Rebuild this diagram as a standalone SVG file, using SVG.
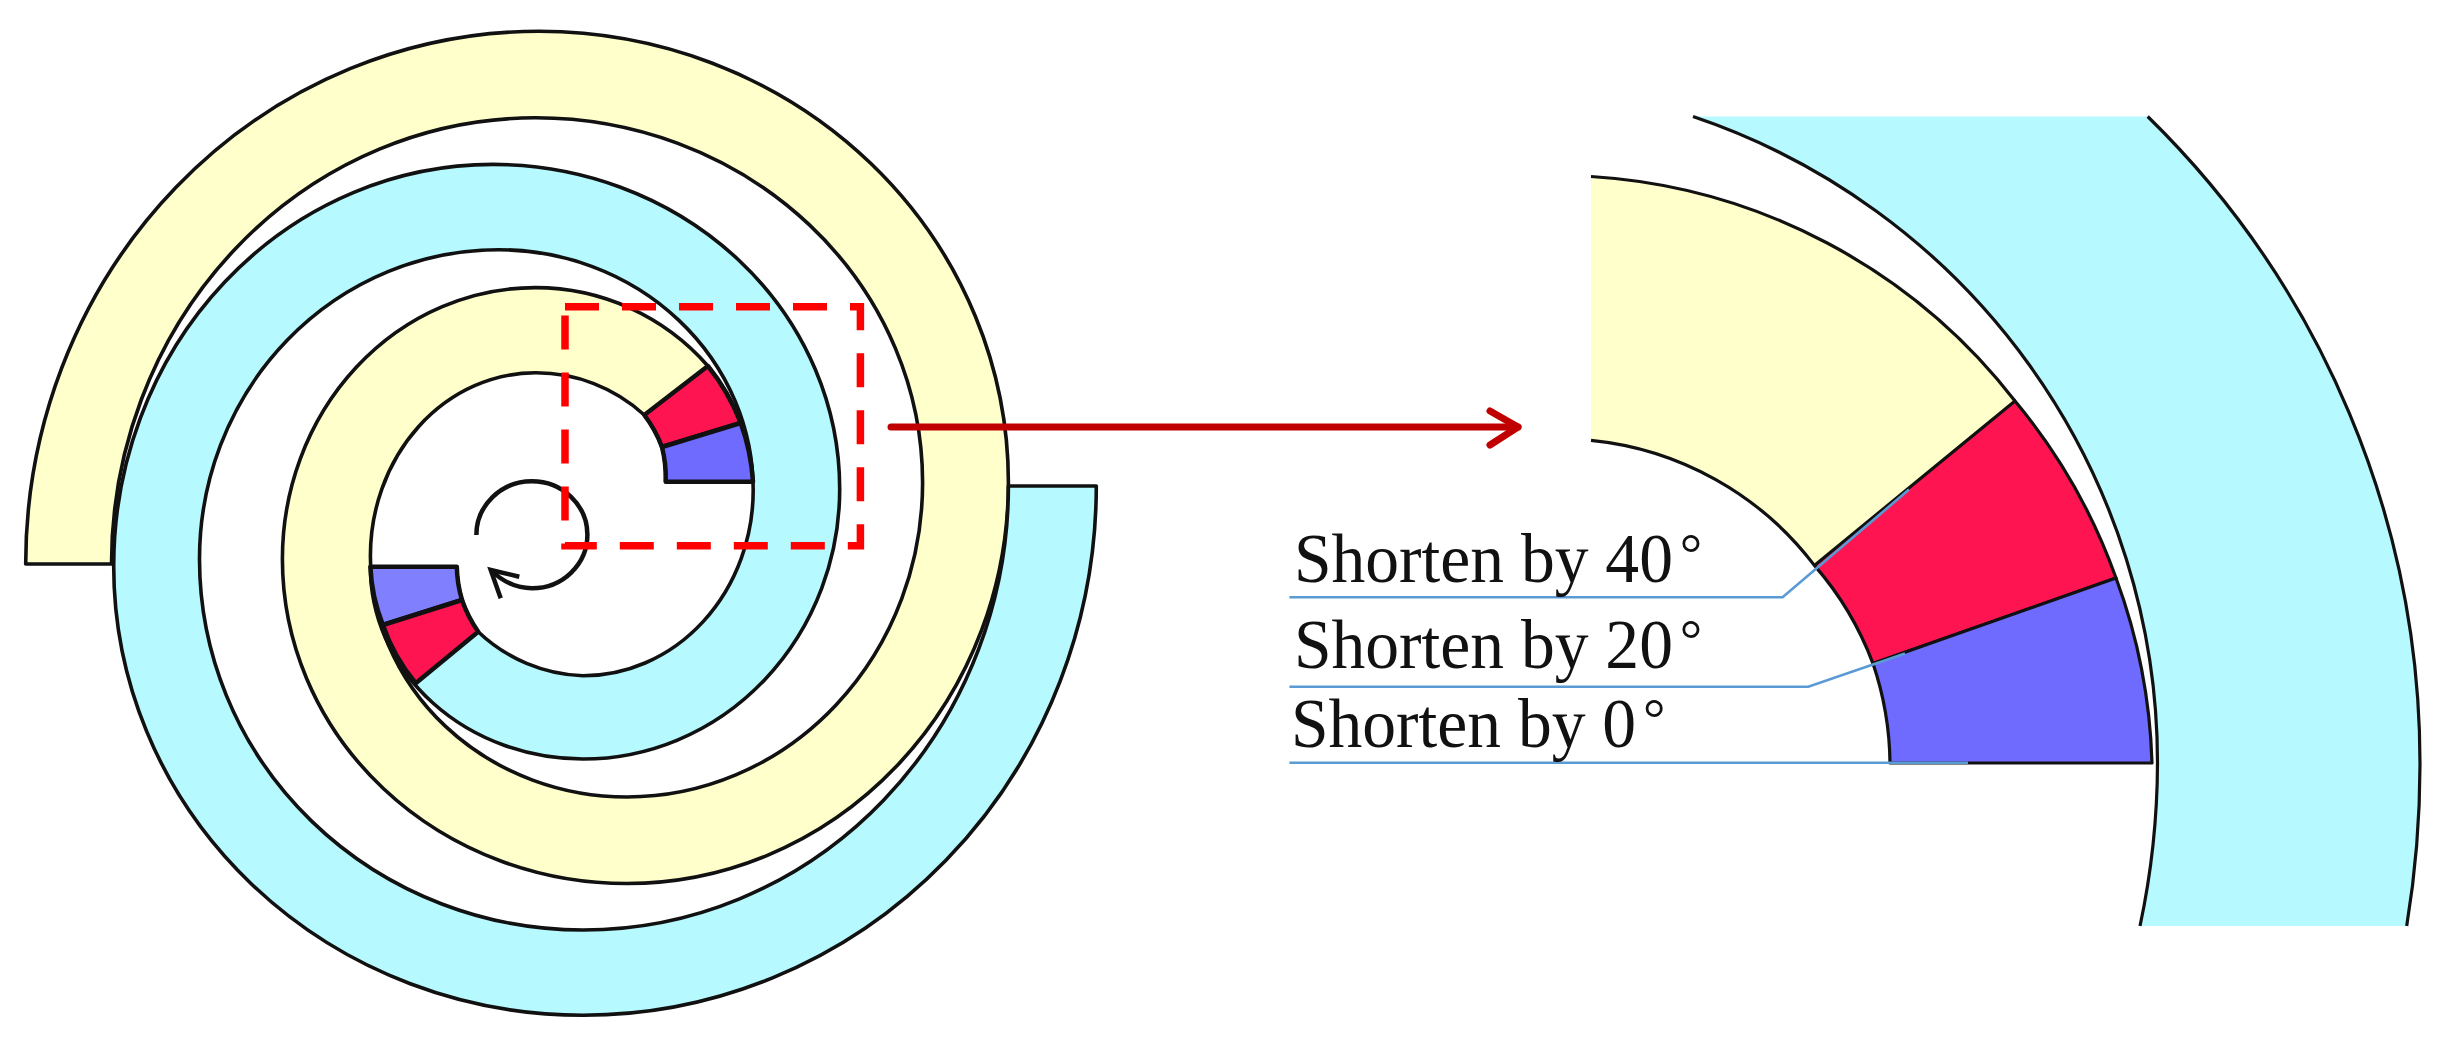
<svg xmlns="http://www.w3.org/2000/svg" width="2438" height="1044" viewBox="0 0 2438 1044">
<style>
.s{stroke:#111;stroke-width:3.2;stroke-linejoin:round;fill:none}
.y{fill:#ffffcc}.c{fill:#b6f9ff}.r{fill:#ff1452}.b{fill:#6f6bff}.b2{fill:#8080ff}
.o{stroke:#111;stroke-width:3.6;stroke-linejoin:round}
.a{stroke:#111;stroke-width:4.5;stroke-linejoin:round}
.t{font-family:"Liberation Serif","Times New Roman",serif;font-size:70px;fill:#111}
.d{font-size:58px}
.l{fill:none;stroke:#5b9bd5;stroke-width:2.6}
.e{fill:none;stroke:#c00000;stroke-width:7;stroke-linecap:round;stroke-linejoin:round}
</style>
<rect width="2438" height="1044" fill="#fff"/>
<g id="spiral-left">
<path id="arm-yellow" class="y o" d="M25.7,564A513.3,532.7 0 0 1 539,31.3A469.4,451.4 0 0 1 1008.4,482.7A381.4,400.8 0 0 1 627,883.5A344.6,324.5 0 0 1 282.4,559A253,271.4 0 0 1 535.4,287.6A229,229 0 0 1 707.9,366A210,210 0 0 1 740.7,423A210,210 0 0 1 753,481.7L665.7,481.7A125,125 0 0 0 662,447A125,125 0 0 0 644.3,415A160,160 0 0 0 535.4,372.8A165,183.2 0 0 0 370.4,556A256.6,241 0 0 0 627,797A295.6,314.3 0 0 0 922.6,482.7A387.2,364.9 0 0 0 535.4,117.8A423.9,446.2 0 0 0 111.5,564Z"/>
<path id="arm-cyan" class="c o" d="M1096.3,486A513.3,529.3 0 0 1 583,1015.3A469.3,449.3 0 0 1 113.7,566A379.1,401.6 0 0 1 492.8,164.4A346.9,324.6 0 0 1 839.7,489A256.7,270 0 0 1 583,759A212.6,192 0 0 1 370.4,567L456.8,566.7A125,125 0 0 0 462,600A125,125 0 0 0 478.2,631.7A160,160 0 0 0 583,675.8A170.2,185.8 0 0 0 753.2,490A254.5,240.3 0 0 0 498.7,249.7A299.2,309.3 0 0 0 199.5,559A383.5,371 0 0 0 583,930A425.4,444 0 0 0 1008.4,486Z"/>
<path id="wedge-top-red" class="r a" d="M707.9,366A210,210 0 0 1 740.7,423L662,447A125,125 0 0 0 644.3,415Z"/>
<path id="wedge-top-blue" class="b a" d="M740.7,423A210,210 0 0 1 753,481.7L665.7,481.7A125,125 0 0 0 662,447Z"/>
<path id="wedge-bottom-blue" class="b2 a" d="M370.4,566.7A212.6,192 0 0 0 382.9,625L462,600A125,125 0 0 1 456.8,566.7Z"/>
<path id="wedge-bottom-red" class="r a" d="M382.9,625A212.6,192 0 0 0 415.7,683.3L478.2,631.7A125,125 0 0 1 462,600Z"/>
</g>
<g id="rotation-arrow" fill="none" stroke="#111" stroke-width="4.5">
<path d="M476.4,535A55.5,53.5 0 1 1 532,588.3C516,588.3 503,582 490.7,570"/>
<path d="M519.3,576.7L490.7,570L500.7,598.3"/>
</g>
<rect id="zoom-box" x="565" y="306.7" width="295.4" height="239" fill="none" stroke="#ff0000" stroke-width="7.5" stroke-dasharray="34 23"/>
<g id="detail">
<path class="c" d="M1693,116.5A682,682 0 0 1 2157.5,763A790,790 0 0 1 2140,926L2406.7,926A993,993 0 0 0 2420,764.6A906,906 0 0 0 2147.7,116.5Z"/>
<path class="s" d="M1693,116.5A682,682 0 0 1 2157.5,763A790,790 0 0 1 2140,926"/>
<path class="s" d="M2147.7,116.5A906,906 0 0 1 2420,764.6A993,993 0 0 1 2406.7,926"/>
<path class="y" d="M1591,176.5A582,582 0 0 1 2015,401L1814.4,565.4A320,320 0 0 0 1591,440.3Z"/>
<path class="s" d="M1591,176.5A582,582 0 0 1 2015,401"/>
<path class="s" d="M1814.4,565.4A320,320 0 0 0 1591,440.3"/>
<path class="s" style="fill:#ff1452" d="M2015,401A582,582 0 0 1 2116,578L1873,663.6A320,320 0 0 0 1814.4,565.4Z"/>
<path class="s" style="fill:#6f6bff" d="M2116,578A582,582 0 0 1 2152,763L1890,763A320,320 0 0 0 1873,663.6Z"/>
</g>
<g id="connectors">
<path class="e" d="M891,427L1518,427"/>
<path class="e" d="M1490,411L1518,427L1490,445"/>
<path class="l" d="M1289.4,597.3L1782.6,597.3L1909,489.6"/>
<path class="l" d="M1289.4,686.7L1808.3,686.7L1905,653.5"/>
<path class="l" d="M1289.4,762.7L1968,762.7"/>
</g>
<g id="labels">
<text class="t" transform="translate(1294,581.5) scale(.965,1)">Shorten by 40<tspan class="d" dx="7" dy="-9">°</tspan></text>
<text class="t" transform="translate(1294,668.3) scale(.965,1)">Shorten by 20<tspan class="d" dx="7" dy="-9">°</tspan></text>
<text class="t" transform="translate(1291,747.3) scale(.965,1)">Shorten by 0<tspan class="d" dx="7" dy="-9">°</tspan></text>
</g>
</svg>
